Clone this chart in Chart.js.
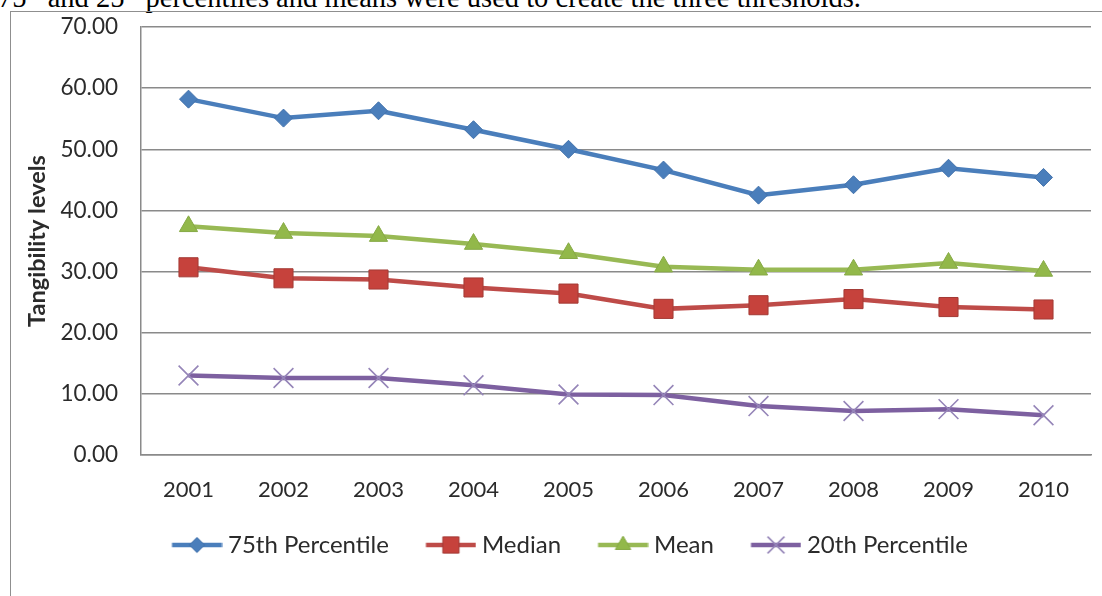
<!DOCTYPE html>
<html>
<head>
<meta charset="utf-8">
<script src="https://cdn.jsdelivr.net/npm/chart.js@4.4.1/dist/chart.umd.min.js"></script>
<style>
  html, body { margin: 0; padding: 0; background: #fff; width: 1102px; height: 596px; overflow: hidden; }
  #note {
    position: absolute; left: -2px; top: -17px;
    font-family: "Liberation Serif", "Times New Roman", serif;
    font-size: 28.5px; line-height: 29px; white-space: nowrap; color: #000;
  }
  #note sup { font-size: 18px; line-height: 0; vertical-align: 11px; }
  #frame {
    position: absolute; left: 10px; top: 11px; width: 1200px; height: 700px;
    border: 1px solid #8f8f8f; box-sizing: border-box;
  }
  #wrap { position: absolute; left: 0; top: 0; width: 1102px; height: 600px; }
</style>
</head>
<body>
<div id="note">75<sup>th</sup> and 25<sup>th</sup> percentiles and means were used to create the three thresholds.</div>
<div id="frame"></div>
<div id="wrap"><canvas id="chart" width="1102" height="600"></canvas></div>
<script>
// Years on the category axis
const years = ['2001', '2002', '2003', '2004', '2005', '2006', '2007', '2008', '2009', '2010'];

// Tangibility levels per year
const pct75  = [58.2, 55.1, 56.3, 53.2, 50.0, 46.6, 42.5, 44.2, 46.9, 45.4];
const median = [30.7, 28.9, 28.7, 27.4, 26.4, 23.9, 24.5, 25.5, 24.2, 23.8];
const mean   = [37.4, 36.3, 35.8, 34.5, 33.0, 30.8, 30.3, 30.3, 31.4, 30.1];
const pct20  = [13.0, 12.6, 12.6, 11.4, 9.9, 9.8, 8.0, 7.2, 7.5, 6.5];

// Value axis ticks
const yTicks = [0, 10, 20, 30, 40, 50, 60, 70];

const seriesNames = ['75th Percentile', 'Median', 'Mean', '20th Percentile'];

const FONT = 'Lato, "Open Sans", sans-serif';
const TEXT = '#2b2b2b';
const GRID = '#8a8a8a';
const LEGEND_FONT = 24;

const styles = [
  { line: '#4a7ebb', fill: '#4a7ebb', border: '#4171ab', point: 'rectRot', radius: 9, bw: 1 },
  { line: '#be4b48', fill: '#c6423c', border: '#a33a35', point: 'rect', radius: 13.5, bw: 1 },
  { line: '#98b954', fill: '#92b84a', border: '#86a945', point: 'triangle', radius: 10.5, bw: 1 },
  { line: '#7d60a0', fill: 'rgba(0,0,0,0)', border: '#9585b8', point: 'crossRot', radius: 14, bw: 1.6 }
];

// Legend swatch: a 50px line segment with the series marker in its middle,
// ending a few pixels before the label text
function makeSwatch(s) {
  const c = document.createElement('canvas');
  c.width = 58; c.height = 30;
  const ctx = c.getContext('2d');
  const x0 = 7.5, x1 = 57.5, mid = (x0 + x1) / 2;
  ctx.strokeStyle = s.line; ctx.lineWidth = 4.5; ctx.lineCap = 'butt';
  ctx.beginPath(); ctx.moveTo(x0, 15); ctx.lineTo(x1, 15); ctx.stroke();
  ctx.fillStyle = s.fill; ctx.strokeStyle = s.border; ctx.lineWidth = s.bw;
  Chart.helpers.drawPoint(ctx, { pointStyle: s.point, radius: s.radius * 0.85, rotation: 0, borderWidth: s.bw }, mid, 15);
  return c;
}

const seriesData = [pct75, median, mean, pct20];
const datasets = seriesData.map((d, i) => ({
  label: seriesNames[i],
  data: d,
  borderColor: styles[i].line,
  borderWidth: 4.5,
  backgroundColor: styles[i].fill,
  pointStyle: styles[i].point,
  pointRadius: styles[i].radius,
  pointHoverRadius: styles[i].radius,
  pointBackgroundColor: styles[i].fill,
  pointBorderColor: styles[i].border,
  pointBorderWidth: styles[i].bw,
  tension: 0,
  fill: false
}));

const swatches = styles.map(makeSwatch);

// Pull the legend row a little to the left of the plot's left edge
const legendShift = {
  id: 'legendShift',
  afterLayout(chart) { if (chart.legend) chart.legend.left -= 6; }
};

new Chart(document.getElementById('chart'), {
  type: 'line',
  data: { labels: years, datasets: datasets },
  plugins: [legendShift],
  options: {
    responsive: false,
    animation: false,
    devicePixelRatio: 1,
    layout: { autoPadding: false, padding: { left: 10, top: 27, right: 11, bottom: 33 } },
    plugins: {
      tooltip: { enabled: false },
      legend: {
        position: 'bottom',
        align: 'start',
        fullSize: false,
        labels: {
          font: { family: FONT, size: LEGEND_FONT },
          color: TEXT,
          usePointStyle: true,
          pointStyleWidth: 45,
          boxHeight: LEGEND_FONT,
          padding: 36,
          generateLabels: (chart) => chart.data.datasets.map((ds, i) => ({
            text: ds.label,
            pointStyle: swatches[i],
            fillStyle: 'transparent',
            strokeStyle: 'transparent',
            lineWidth: 0,
            fontColor: TEXT,
            datasetIndex: i,
            hidden: false
          }))
        }
      }
    },
    scales: {
      x: {
        offset: true,
        grid: { display: false, drawTicks: false },
        border: { display: true, color: GRID, width: 1.5 },
        ticks: { font: { family: FONT, size: 22 }, color: TEXT, padding: 22, maxRotation: 0 },
        afterFit: (s) => { s.height = 42; s.paddingLeft = 0; s.paddingRight = 0; }
      },
      y: {
        min: 0, max: 70,
        afterBuildTicks: (s) => { s.ticks = yTicks.map(v => ({ value: v })); },
        grid: { color: GRID, lineWidth: 1.5, drawTicks: false },
        border: { display: true, color: GRID, width: 1.5 },
        ticks: {
          font: { family: FONT, size: 22.5 }, color: TEXT, padding: 23,
          callback: (v) => Number(v).toFixed(2)
        },
        title: {
          display: true, text: 'Tangibility levels',
          font: { family: FONT, size: 23.5, weight: 'bold' }, color: TEXT,
          padding: { top: 13, bottom: 0 }
        },
        afterFit: (s) => { s.width = 131; s.paddingTop = 13.5; s.paddingBottom = 13.5; }
      }
    }
  }
});
</script>
</body>
</html>
